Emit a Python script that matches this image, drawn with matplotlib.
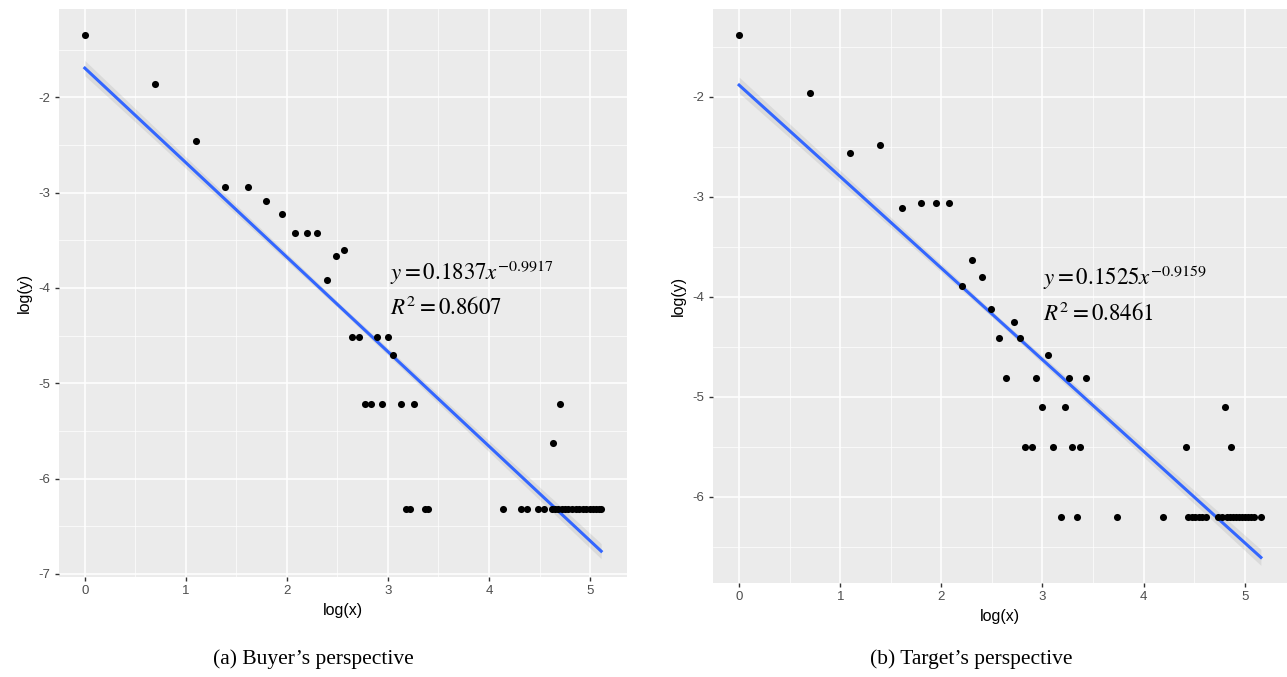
# Dois painéis log-log no estilo ggplot: perspectiva do comprador e do alvo.

import matplotlib.pyplot as plt
import numpy as np

# painel (a) - comprador
buyer_x = [0.0, 0.69, 1.10, 1.39, 1.61, 1.79, 1.95, 2.08, 2.20, 2.30, 2.40, 2.49, 2.56,
           2.64, 2.71, 2.89, 3.00, 3.05, 2.77, 2.83, 2.94, 3.13, 3.26,
           3.18, 3.22, 3.37, 3.40, 4.14, 4.32, 4.38, 4.48, 4.54,
           4.62, 4.65, 4.68, 4.72, 4.75, 4.78, 4.82, 4.86, 4.89, 4.93, 4.96, 5.00,
           5.03, 5.06, 5.09, 5.11, 4.63, 4.70]
buyer_y = [-1.35, -1.86, -2.46, -2.94, -2.94, -3.09, -3.22, -3.42, -3.42, -3.42, -3.92, -3.67, -3.60,
           -4.52, -4.52, -4.52, -4.52, -4.70, -5.22, -5.22, -5.22, -5.22, -5.22,
           -6.32, -6.32, -6.32, -6.32, -6.32, -6.32, -6.32, -6.32, -6.32,
           -6.32, -6.32, -6.32, -6.32, -6.32, -6.32, -6.32, -6.32, -6.32, -6.32, -6.32, -6.32,
           -6.32, -6.32, -6.32, -6.32, -5.63, -5.22]
buyer_fit_x = [0.0, 2.55, 5.11]
buyer_fit_y = [-1.694, -4.223, -6.762]
buyer_se = [0.08, 0.03, 0.08]

# painel (b) - alvo
target_x = [0.0, 0.70, 1.10, 1.39, 1.61, 1.80, 1.95, 2.08, 2.20, 2.30, 2.40, 2.49, 2.72,
            2.57, 2.78, 3.05, 2.64, 2.94, 3.26, 3.43, 3.00, 3.22, 4.80,
            2.83, 2.90, 3.10, 3.29, 3.37, 4.42, 4.86,
            3.18, 3.34, 3.74, 4.19, 4.44, 4.48, 4.51, 4.55, 4.58, 4.62,
            4.74, 4.78, 4.82, 4.85, 4.88, 4.91, 4.94, 4.97, 5.00, 5.03, 5.06, 5.09, 5.16]
target_y = [-1.38, -1.96, -2.56, -2.48, -3.11, -3.06, -3.06, -3.06, -3.89, -3.63, -3.80, -4.12, -4.25,
            -4.41, -4.41, -4.58, -4.81, -4.81, -4.81, -4.81, -5.10, -5.10, -5.10,
            -5.50, -5.50, -5.50, -5.50, -5.50, -5.50, -5.50,
            -6.20, -6.20, -6.20, -6.20, -6.20, -6.20, -6.20, -6.20, -6.20, -6.20,
            -6.20, -6.20, -6.20, -6.20, -6.20, -6.20, -6.20, -6.20, -6.20, -6.20, -6.20, -6.20, -6.20]
target_fit_x = [0.0, 2.58, 5.16]
target_fit_y = [-1.881, -4.244, -6.607]
target_se = [0.08, 0.03, 0.08]

plt.rcParams['mathtext.fontset'] = 'stix'
plt.rcParams['axes.unicode_minus'] = False
plt.rcParams['font.family'] = ['Liberation Sans', 'DejaVu Sans']


def estilo_ggplot(ax, xmin, xmax, ymin, ymax):
    """Aplica o visual do tema cinza do ggplot2."""
    ax.set_facecolor('#EBEBEB')
    for s in ax.spines.values():
        s.set_visible(False)
    ax.set_xlim(xmin, xmax)
    ax.set_ylim(ymin, ymax)
    ax.set_xticks([0, 1, 2, 3, 4, 5])
    ax.set_xticks([0.5, 1.5, 2.5, 3.5, 4.5], minor=True)
    ax.grid(which='major', color='white', linewidth=1.1)
    ax.grid(which='minor', color='white', linewidth=0.5)
    ax.set_axisbelow(True)
    ax.tick_params(which='major', length=3, width=1, color='#333333',
                   labelcolor='#4D4D4D', labelsize=9.5, pad=3)
    ax.tick_params(which='minor', length=0)
    ax.set_xlabel('log(x)', fontsize=11.5, color='black', labelpad=4)
    ax.set_ylabel('log(y)', fontsize=11.5, color='black', labelpad=5)


fig = plt.figure(figsize=(12.87, 6.77), dpi=100)

ax1 = fig.add_axes([59 / 1287, 1 - 577 / 677, 568 / 1287, 568 / 677])
estilo_ggplot(ax1, -0.2555, 5.3655, -7.033, -1.074)
ax1.set_yticks([-2, -3, -4, -5, -6, -7])
ax1.set_yticks([-1.5, -2.5, -3.5, -4.5, -5.5, -6.5], minor=True)
ax1.fill_between(buyer_fit_x, np.array(buyer_fit_y) - buyer_se, np.array(buyer_fit_y) + buyer_se,
                 color='#999999', alpha=0.2, linewidth=0)
ax1.plot(buyer_fit_x, buyer_fit_y, color='#3366FF', linewidth=2.2)
ax1.scatter(buyer_x, buyer_y, s=26, color='black', zorder=3, linewidths=0)
ax1.text(3.02, -3.84, r'$y = 0.1837x^{-0.9917}$', fontsize=16.5, va='center', ha='left')
ax1.text(3.02, -4.22, r'$R^2 = 0.8607$', fontsize=16.5, va='center', ha='left')

ax2 = fig.add_axes([713 / 1287, 1 - 583 / 677, 574 / 1287, 574 / 677])
estilo_ggplot(ax2, -0.258, 5.418, -6.863, -1.12)
ax2.set_yticks([-2, -3, -4, -5, -6])
ax2.set_yticks([-1.5, -2.5, -3.5, -4.5, -5.5, -6.5], minor=True)
ax2.fill_between(target_fit_x, np.array(target_fit_y) - target_se, np.array(target_fit_y) + target_se,
                 color='#999999', alpha=0.2, linewidth=0)
ax2.plot(target_fit_x, target_fit_y, color='#3366FF', linewidth=2.2)
ax2.scatter(target_x, target_y, s=26, color='black', zorder=3, linewidths=0)
ax2.text(3.01, -3.81, r'$y = 0.1525x^{-0.9159}$', fontsize=16.5, va='center', ha='left')
ax2.text(3.01, -4.18, r'$R^2 = 0.8461$', fontsize=16.5, va='center', ha='left')

fig.text(313 / 1287, 1 - 659 / 677, '(a) Buyer\u2019s perspective', family='Liberation Serif',
         fontsize=15.5, ha='center', va='center')
fig.text(971 / 1287, 1 - 659 / 677, '(b) Target\u2019s perspective', family='Liberation Serif',
         fontsize=15.5, ha='center', va='center')

fig.savefig('out.png', dpi=100)
